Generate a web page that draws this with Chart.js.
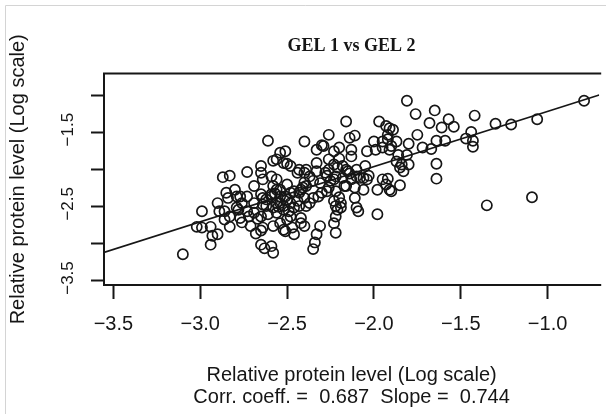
<!DOCTYPE html>
<html>
<head>
<meta charset="utf-8">
<script src="https://cdn.jsdelivr.net/npm/chart.js@4.4.1/dist/chart.umd.min.js"></script>
<style>
  html, body { margin: 0; padding: 0; background: #fff; overflow: hidden; }
  #wrap { width: 606px; height: 414px; position: relative; }
</style>
</head>
<body>
<div id="wrap"><canvas id="c" width="606" height="414"></canvas></div>
<script>
// ---- data ----
const titleText = 'GEL 1 vs GEL 2';
const axisTitle = 'Relative protein level (Log scale)';
const statsLine = 'Corr. coeff. =  0.687  Slope =  0.744';
const xTicks = [-3.5, -3.0, -2.5, -2.0, -1.5, -1.0];
const yTicks = [-3.5, -3.0, -2.5, -2.0, -1.5, -1.0];
const yLabelled = [-3.5, -2.5, -1.5];
const axisMin = -3.554;
const xAxisMax = -0.703;
const yAxisMax = -0.704;
const slope = 0.744;
const intercept = -0.47;

const gel1 = [
 -3.10,-3.02,-2.99,-2.99,-2.94,-2.93,-2.90,-2.94,-2.87,-2.83,-2.73,-2.65,-2.61,-2.90,-2.89,-2.84,-2.80,-2.79,-2.76,-2.73,
 -2.69,-2.64,-2.65,-2.86,-2.83,-2.77,-2.72,-2.67,-2.71,-2.68,-2.64,-2.65,-2.63,-2.79,-2.69,-2.64,-2.65,-2.85,-2.86,-2.83,
 -2.77,-2.76,-2.73,-2.69,-2.65,-2.65,-2.62,-2.78,-2.62,-2.64,-2.61,
 -2.40,-2.26,-2.16,-2.11,-2.14,-2.00,-1.95,-1.93,-1.97,-2.33,-2.29,-2.23,-2.20,-2.13,-2.04,-1.99,-1.95,-1.90,-2.51,-2.54,
 -2.56,-2.52,-2.48,-2.44,-2.39,-2.37,-2.33,-2.28,-2.23,-2.18,-2.15,-2.10,-2.05,-2.59,-2.56,-2.58,-2.54,-2.50,-2.48,-2.42,
 -2.39,-2.35,-2.31,-2.25,-2.22,-2.18,-2.13,-2.08,-2.04,-1.95,-1.93,-1.98,-1.91,-2.35,-2.30,-2.26,-2.22,-2.17,-2.11,-2.06,
 -2.11,-2.10,-2.09,-1.98,-2.59,-2.54,-2.50,-2.44,-2.40,-2.39,-2.46,-2.52,-2.58,-2.23,-2.19,-2.21,-2.22,-2.42,-2.50,-2.54,
 -2.58,-2.52,-2.47,-2.40,-2.31,-2.33,-2.34,-2.35,-2.23,-2.22,-2.59,-2.58,
 -2.58,-2.33,-2.26,-2.20,-2.13,-2.40,-2.57,-2.37,-2.20,-2.56,-2.46,-2.19,-2.51,-2.48,-2.55,-2.49,-2.23,-2.27,-2.03,
 -2.30,-2.43,-2.40,-2.14,-2.10,-2.06,-2.41,-2.46,-2.43,-2.56,-2.54,-2.59,-2.56,-2.52,-2.43,-2.32,-2.27,-2.16,-2.22,-2.48,
 -2.42,-2.51,-2.50,-2.21,-2.26,-2.16,
 -1.81,-1.76,-1.65,-1.57,-1.42,-1.68,-1.61,-1.54,-1.75,-1.91,-1.92,-1.87,-1.80,-1.72,-1.67,-1.64,-1.59,-1.47,-1.44,-1.43,
 -1.43,-1.30,-1.21,-1.06,-0.79,-1.64,-1.64,-1.35,-1.09,-1.86,-1.81,-1.87,-1.84,-1.83,-1.80,-1.85,-1.92,-1.90,-1.85,-1.91,
 -1.89,-1.92
];
const gel2 = [
 -3.14,-2.77,-2.78,-2.56,-2.77,-2.89,-2.87,-3.01,-2.10,-2.08,-2.03,-1.95,-1.61,-2.45,-2.56,-2.38,-2.27,-2.51,-2.45,-2.36,
 -2.22,-2.13,-2.04,-2.67,-2.77,-2.65,-2.63,-2.66,-2.76,-2.86,-2.78,-3.01,-3.06,-2.36,-2.45,-2.47,-2.33,-2.31,-2.56,-2.63,
 -2.36,-2.71,-2.56,-2.58,-2.63,-2.82,-2.49,-2.54,-2.40,-2.38,-2.60,
 -1.62,-1.53,-1.35,-1.54,-1.57,-1.62,-1.62,-1.41,-1.35,-1.73,-1.68,-1.75,-1.70,-1.73,-1.75,-1.73,-1.70,-1.68,-1.75,-1.77,
 -1.86,-1.91,-1.95,-2.04,-2.00,-2.09,-2.02,-2.04,-1.93,-1.95,-2.02,-2.00,-1.95,-2.09,-2.13,-2.22,-2.27,-2.20,-2.31,-2.27,
 -2.22,-2.15,-2.18,-2.15,-2.09,-2.11,-2.13,-2.11,-2.13,-2.13,-2.20,-2.27,-2.27,-2.38,-2.31,-2.24,-2.29,-2.22,-2.24,-2.27,
 -2.38,-2.51,-2.56,-2.60,-2.36,-2.45,-2.40,-2.42,-2.38,-2.49,-2.51,-2.54,-2.51,-2.42,-2.45,-2.54,-2.63,-2.65,-2.67,-2.72,
 -2.76,-2.81,-2.78,-2.76,-2.76,-2.87,-2.98,-3.07,-2.72,-2.85,-3.03,-3.12,
 -1.88,-1.91,-1.86,-1.85,-1.82,-2.17,-2.32,-2.45,-2.37,-2.58,-2.87,-2.51,-2.36,-2.45,-2.50,-2.56,-2.13,-2.08,-2.08,
 -1.67,-2.00,-2.04,-2.05,-2.09,-2.11,-2.24,-2.29,-2.31,-2.27,-2.36,-2.33,-2.45,-2.49,-2.49,-2.36,-2.29,-2.22,-2.49,-2.63,
 -2.72,-2.83,-1.92,-1.97,-2.00,-2.00,
 -1.07,-1.25,-1.20,-1.32,-1.27,-1.37,-1.43,-1.42,-1.53,-1.44,-1.53,-1.62,-1.65,-1.70,-1.72,-1.61,-1.61,-1.58,-1.49,-1.61,
 -1.69,-1.38,-1.39,-1.32,-1.07,-1.92,-2.12,-2.48,-2.37,-1.80,-1.80,-1.89,-1.93,-2.02,-1.93,-1.97,-2.12,-2.29,-2.21,-1.73,
 -1.46,-1.59
];

// ---- build chart ----
const points = gel1.map((x, i) => ({ x: x, y: gel2[i] }));
const fitLine = [axisMin, xAxisMax].map(x => ({ x: x, y: slope * x + intercept }));
const fmt = v => (v < 0 ? '\u2212' : '') + Math.abs(v).toFixed(1);
const near = (v, arr) => arr.some(a => Math.abs(a - v) < 1e-6);
const INK = '#161616';
const FONT = "'Liberation Sans', Arial, sans-serif";

const boxPlugin = {
  id: 'box',
  beforeDraw(chart) {
    const { ctx, width, height } = chart;
    ctx.save();
    ctx.strokeStyle = '#d4d4d4';
    ctx.lineWidth = 1;
    ctx.beginPath();
    ctx.moveTo(5.5, height);
    ctx.lineTo(5.5, 5.5);
    ctx.lineTo(width, 5.5);
    ctx.stroke();
    ctx.restore();
  },
  afterDraw(chart) {
    const { ctx, chartArea: a } = chart;
    ctx.save();
    ctx.strokeStyle = INK;
    ctx.lineWidth = 2;
    ctx.beginPath();
    ctx.moveTo(a.right + 2, a.top);
    ctx.lineTo(a.left, a.top);
    ctx.lineTo(a.left, a.bottom);
    ctx.lineTo(a.right + 2, a.bottom);
    ctx.stroke();
    ctx.restore();
  }
};

new Chart(document.getElementById('c'), {
  type: 'scatter',
  data: {
    datasets: [
      {
        type: 'scatter',
        data: points,
        pointStyle: 'circle',
        pointRadius: 5.1,
        pointHoverRadius: 5.1,
        pointBorderWidth: 1.7,
        pointBorderColor: INK,
        pointBackgroundColor: 'rgba(0,0,0,0)',
        borderColor: INK,
        backgroundColor: 'rgba(0,0,0,0)'
      },
      {
        type: 'line',
        data: fitLine,
        borderColor: INK,
        borderWidth: 1.6,
        pointRadius: 0,
        fill: false,
        tension: 0
      }
    ]
  },
  options: {
    responsive: false,
    animation: false,
    devicePixelRatio: 1,
    events: [],
    layout: { padding: 0 },
    plugins: {
      legend: { display: false },
      tooltip: { enabled: false },
      title: {
        display: true,
        text: titleText,
        fullSize: false,
        color: INK,
        font: { family: "'Liberation Serif', 'Times New Roman', serif", size: 18, weight: 'bold', lineHeight: 1.2 },
        padding: { top: 36, bottom: 16 }
      }
    },
    scales: {
      x: {
        type: 'linear',
        position: 'bottom',
        min: axisMin,
        max: xAxisMax,
        afterFit: s => { s.height = 129; },
        afterBuildTicks: s => { s.ticks = xTicks.map(v => ({ value: v })); },
        border: { display: false },
        grid: { display: true, drawOnChartArea: false, drawTicks: true, tickLength: 14, tickWidth: 2, tickColor: INK },
        ticks: {
          autoSkip: false, includeBounds: false, maxRotation: 0, minRotation: 0, padding: 13,
          color: INK, font: { family: FONT, size: 20 },
          callback: v => fmt(v)
        },
        title: {
          display: true,
          text: [axisTitle, statsLine],
          color: INK,
          font: { family: FONT, size: 20, lineHeight: 1.1 },
          padding: { top: 0, bottom: 6 }
        }
      },
      y: {
        type: 'linear',
        position: 'left',
        min: axisMin,
        max: yAxisMax,
        afterFit: s => { s.width = 104; },
        afterBuildTicks: s => { s.ticks = yTicks.map(v => ({ value: v })); },
        border: { display: false },
        grid: { display: true, drawOnChartArea: false, drawTicks: true, tickLength: 13, tickWidth: 2, tickColor: INK },
        ticks: {
          autoSkip: false, includeBounds: false, minRotation: 90, maxRotation: 90, padding: 6,
          crossAlign: 'center', labelOffset: -3,
          color: INK, font: { family: FONT, size: 17 },
          callback: v => near(v, yLabelled) ? fmt(v) : ''
        },
        title: {
          display: true,
          text: axisTitle,
          color: INK,
          font: { family: FONT, size: 20, lineHeight: 1.2 },
          padding: { top: 6, bottom: 0 }
        }
      }
    }
  },
  plugins: [boxPlugin]
});
</script>
</body>
</html>
